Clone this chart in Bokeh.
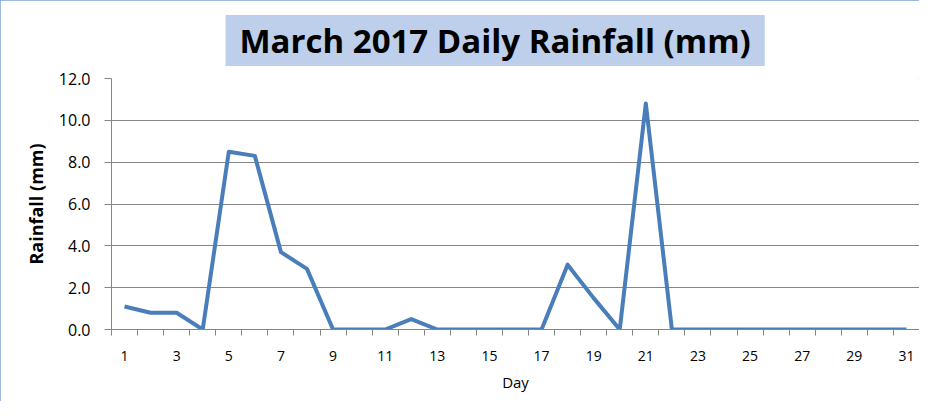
from bokeh.plotting import figure
from bokeh.models import FixedTicker, Range1d, CustomJSTickFormatter, Title
from bokeh.embed import file_html
from bokeh.resources import INLINE

# ---- data ----
days = list(range(1, 32))
rainfall = [1.1, 0.8, 0.8, 0.0, 8.5, 8.3, 3.7, 2.9, 0.0, 0.0,
            0.0, 0.5, 0.0, 0.0, 0.0, 0.0, 0.0, 3.1, 1.5, 0.0,
            10.8, 0.0, 0.0, 0.0, 0.0, 0.0, 0.0, 0.0, 0.0, 0.0, 0.0]
x_tick_labels = [1, 3, 5, 7, 9, 11, 13, 15, 17, 19, 21, 23, 25, 27, 29, 31]
y_ticks = [0, 2, 4, 6, 8, 10, 12]
title_text = "March 2017 Daily Rainfall (mm)"
x_title = "Day"
y_title = "Rainfall (mm)"

FONT = "Open Sans"
GRID = "#868686"

p = figure(width=919, height=401, output_backend="svg", toolbar_location=None,
           x_range=Range1d(0.5, 31.5), y_range=Range1d(0, 12),
           min_border_left=111, min_border_right=0, min_border_top=78, min_border_bottom=72)
p.outline_line_color = None
p.background_fill_color = "white"
p.border_fill_color = "white"
p.styles = {"outline": "1.5px solid #7DA3DA", "outline-offset": "-1px"}

p.line(days, rainfall, line_color="#4A7EBB", line_width=4, line_join="round")

# title with a filled box behind it
t = Title(text=title_text, align="left", offset=114, standoff=25,
          text_font=FONT, text_font_size="33px", text_font_style="bold",
          text_color="#000000", background_fill_color="#BDCFEA",
          padding=(14, 14, 3, 3))
p.add_layout(t, "above")

# x axis
xa = p.xaxis[0]
xa.ticker = FixedTicker(ticks=x_tick_labels, minor_ticks=[d - 0.5 for d in days] + [days[-1] + 0.5])
xa.major_tick_out = 0
xa.major_tick_in = 0
xa.minor_tick_out = 6
xa.minor_tick_in = 0
xa.minor_tick_line_color = GRID
xa.axis_line_color = GRID
xa.major_label_text_font = FONT
xa.major_label_text_font_size = "14px"
xa.major_label_text_color = "#000000"
xa.major_label_standoff = 15
xa.axis_label = x_title
xa.axis_label_text_font = FONT
xa.axis_label_text_font_size = "15px"
xa.axis_label_text_font_style = "normal"
xa.axis_label_text_color = "#000000"
xa.axis_label_standoff = 8

# y axis
ya = p.yaxis[0]
ya.ticker = FixedTicker(ticks=y_ticks, minor_ticks=[])
ya.formatter = CustomJSTickFormatter(code="return tick.toFixed(1);")
ya.major_tick_out = 7
ya.major_tick_in = 0
ya.major_tick_line_color = GRID
ya.axis_line_color = GRID
ya.major_label_text_font = FONT
ya.major_label_text_font_size = "16px"
ya.major_label_text_color = "#000000"
ya.major_label_standoff = 14
ya.axis_label = y_title
ya.axis_label_text_font = FONT
ya.axis_label_text_font_size = "18px"
ya.axis_label_text_font_style = "bold"
ya.axis_label_text_color = "#000000"
ya.axis_label_standoff = 8

p.xgrid.grid_line_color = None
p.ygrid.grid_line_color = GRID
p.ygrid.grid_line_width = 1
p.ygrid.ticker = FixedTicker(ticks=y_ticks)

open("out.html", "w").write(file_html(p, INLINE))
